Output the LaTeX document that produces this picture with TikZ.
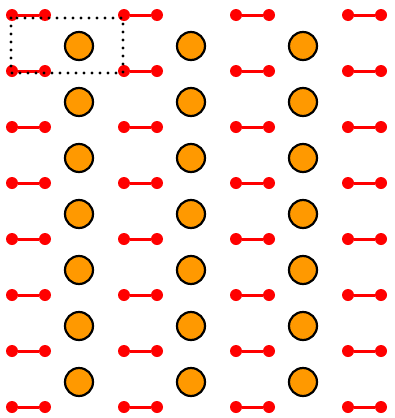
\documentclass[tikz,border=0pt]{standalone}
\definecolor{atomorange}{RGB}{255,153,0}
\definecolor{dimerred}{RGB}{255,0,0}
\begin{document}
\begin{tikzpicture}[x=1pt,y=-1pt,
  atom/.style={circle,draw=black,line width=2.2pt,fill=atomorange,minimum size=28pt,inner sep=0pt},
  dot/.style={circle,fill=dimerred,minimum size=12pt,inner sep=0pt},
  bond/.style={draw=dimerred,line width=3pt},
  cell/.style={draw=black,line width=3.4pt,line cap=round,dash pattern=on 0pt off 8pt}]
\useasboundingbox (0,0) rectangle (394,418);
\foreach \i in {0,...,3}{
  \foreach \j in {0,...,7}{
    \node[dot] (l\i\j) at ({12+112*\i},{15+56*\j}) {};
    \node[dot] (r\i\j) at ({45+112*\i},{15+56*\j}) {};
    \draw[bond] (l\i\j) -- (r\i\j);
  }
}
\foreach \i in {0,...,2}{
  \foreach \j in {0,...,6}{
    \node[atom] (a\i\j) at ({79+112*\i},{46+56*\j}) {};
  }
}
\draw[cell] (11,18) rectangle (123,73);
\end{tikzpicture}
\end{document}
